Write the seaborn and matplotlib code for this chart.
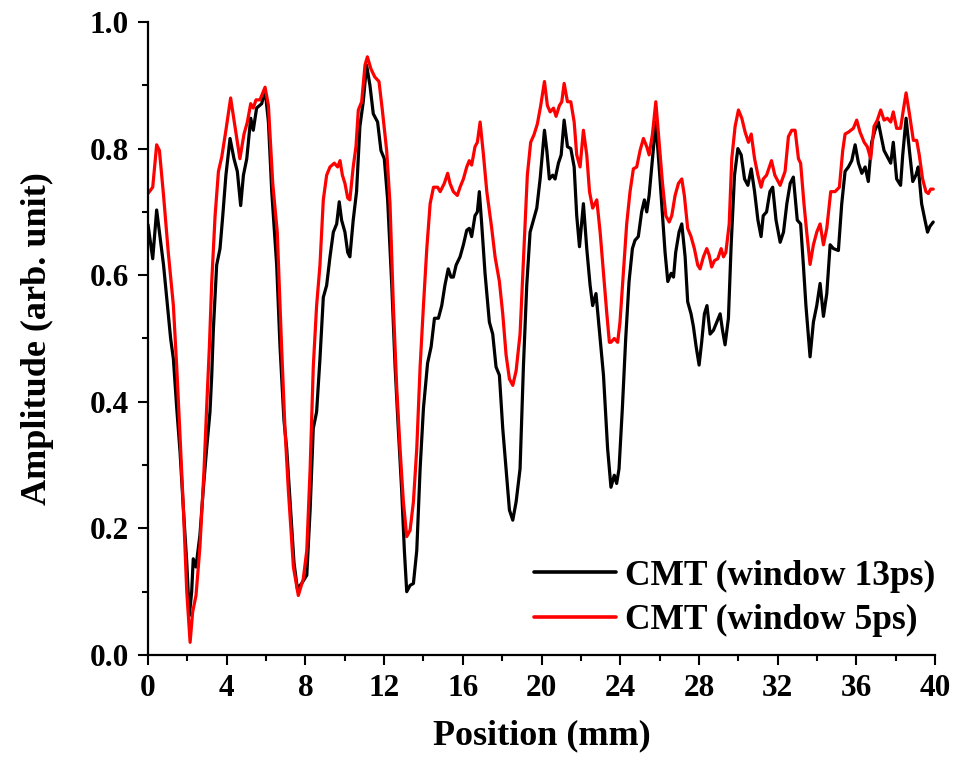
import matplotlib
matplotlib.use("Agg")
import matplotlib.pyplot as plt
from matplotlib.ticker import MultipleLocator, FormatStrFormatter
import numpy as np
import pandas as pd
import seaborn as sns

# CMT amplitude profile, 13 ps window
pos_13ps = [0.0, 0.24, 0.44, 0.79, 0.95, 1.15, 1.29, 1.46, 1.63, 1.80, 1.97, 2.10, 2.22, 2.30, 2.44,
            2.64, 2.81, 2.98, 3.15, 3.24, 3.32, 3.49, 3.66, 3.80, 3.96, 4.17, 4.37, 4.54, 4.71, 4.85,
            5.02, 5.22, 5.35, 5.52, 5.78, 5.95, 6.12, 6.29, 6.54, 6.71, 6.91, 7.05, 7.25, 7.42, 7.59,
            7.81, 8.07, 8.24, 8.40, 8.57, 8.74, 8.91, 9.08, 9.25, 9.42, 9.59, 9.72, 9.84, 10.01, 10.15,
            10.26, 10.43, 10.60, 10.77, 10.94, 11.11, 11.28, 11.45, 11.67, 11.84, 12.01, 12.18, 12.39,
            12.56, 12.72, 12.89, 13.03, 13.15, 13.32, 13.49, 13.66, 13.83, 14.0, 14.21, 14.39, 14.56,
            14.76, 14.93, 15.09, 15.26, 15.40, 15.52, 15.66, 15.86, 16.03, 16.20, 16.33, 16.45, 16.62,
            16.74, 16.84, 16.96, 17.13, 17.35, 17.52, 17.69, 17.86, 18.03, 18.20, 18.37, 18.54, 18.71,
            18.91, 19.08, 19.25, 19.42, 19.59, 19.76, 19.93, 20.15, 20.27, 20.40, 20.57, 20.69, 20.86,
            21.0, 21.15, 21.32, 21.49, 21.66, 21.79, 21.93, 22.13, 22.30, 22.47, 22.60, 22.77, 22.98,
            23.15, 23.26, 23.36, 23.53, 23.70, 23.82, 23.94, 24.11, 24.28, 24.45, 24.62, 24.75, 24.92,
            25.09, 25.23, 25.35, 25.47, 25.60, 25.81, 25.98, 26.15, 26.28, 26.42, 26.59, 26.71, 26.82,
            26.99, 27.13, 27.30, 27.43, 27.60, 27.72, 27.86, 28.01, 28.14, 28.28, 28.41, 28.57, 28.74,
            28.91, 29.08, 29.20, 29.33, 29.50, 29.64, 29.81, 29.98, 30.15, 30.32, 30.49, 30.66, 30.83,
            31.0, 31.16, 31.27, 31.44, 31.61, 31.75, 31.92, 32.13, 32.30, 32.47, 32.64, 32.80, 33.0,
            33.17, 33.31, 33.44, 33.65, 33.82, 33.99, 34.16, 34.33, 34.50, 34.67, 34.84, 35.09, 35.26,
            35.43, 35.60, 35.77, 35.94, 36.11, 36.28, 36.45, 36.61, 36.78, 36.95, 37.12, 37.24, 37.41,
            37.63, 37.75, 37.88, 38.05, 38.25, 38.36, 38.53, 38.70, 38.87, 39.03, 39.15, 39.32, 39.49,
            39.62, 39.74, 39.91]
amp_13ps = [0.68, 0.626, 0.703, 0.616, 0.565, 0.50, 0.468, 0.39, 0.32, 0.23, 0.146, 0.062, 0.10, 0.152, 0.139,
            0.19, 0.262, 0.326, 0.384, 0.442, 0.513, 0.616, 0.642, 0.694, 0.758, 0.816, 0.784, 0.764, 0.710, 0.758,
            0.784, 0.848, 0.829, 0.864, 0.871, 0.893, 0.842, 0.732, 0.616, 0.487, 0.371, 0.326, 0.23, 0.146, 0.105,
            0.113, 0.126, 0.229, 0.358, 0.384, 0.468, 0.565, 0.584, 0.629, 0.668, 0.681, 0.716, 0.687, 0.668, 0.636,
            0.629, 0.687, 0.732, 0.835, 0.874, 0.932, 0.90, 0.855, 0.842, 0.797, 0.784, 0.719, 0.584,
            0.455, 0.358, 0.262, 0.165, 0.10, 0.11, 0.113, 0.165, 0.294, 0.39, 0.461, 0.487, 0.532,
            0.532, 0.552, 0.584, 0.610, 0.597, 0.597, 0.616, 0.629, 0.648, 0.671, 0.674, 0.661, 0.694,
            0.700, 0.732, 0.681, 0.603, 0.526, 0.507, 0.455, 0.442, 0.358, 0.294, 0.229, 0.213, 0.242,
            0.294, 0.455, 0.584, 0.668, 0.687, 0.706, 0.752, 0.829, 0.797, 0.752, 0.758, 0.752, 0.777,
            0.790, 0.845, 0.803, 0.800, 0.771, 0.694, 0.645, 0.713, 0.642, 0.584, 0.552, 0.571, 0.500,
            0.442, 0.38, 0.326, 0.265, 0.284, 0.271, 0.294, 0.39, 0.5, 0.59, 0.642, 0.655, 0.661,
            0.70, 0.719, 0.70, 0.726, 0.771, 0.842, 0.771, 0.694, 0.636, 0.590, 0.603, 0.597, 0.636,
            0.668, 0.681, 0.629, 0.558, 0.539, 0.519, 0.487, 0.458, 0.494, 0.539, 0.552, 0.507, 0.513,
            0.526, 0.539, 0.513, 0.490, 0.532, 0.648, 0.758, 0.800, 0.790, 0.752, 0.742, 0.768, 0.732,
            0.687, 0.661, 0.694, 0.700, 0.732, 0.739, 0.687, 0.652, 0.668, 0.713, 0.745, 0.755, 0.687,
            0.681, 0.616, 0.552, 0.471, 0.526, 0.552, 0.587, 0.535, 0.571, 0.648, 0.642, 0.639, 0.713,
            0.764, 0.771, 0.781, 0.806, 0.777, 0.761, 0.771, 0.748, 0.81, 0.829, 0.842, 0.823, 0.797,
            0.784, 0.777, 0.81, 0.752, 0.742, 0.790, 0.848, 0.797, 0.748, 0.758, 0.771, 0.713, 0.687,
            0.668, 0.677, 0.684]

# CMT amplitude profile, 5 ps window
pos_5ps = [0.0, 0.24, 0.44, 0.58, 0.79, 1.03, 1.29, 1.46, 1.63, 1.80, 1.97, 2.14, 2.27, 2.44, 2.64,
           2.85, 2.98, 3.12, 3.24, 3.41, 3.58, 3.75, 3.96, 4.20, 4.42, 4.67, 4.88, 5.05, 5.22, 5.35,
           5.49, 5.69, 5.95, 6.12, 6.34, 6.57, 6.79, 6.96, 7.13, 7.39, 7.64, 7.89, 8.07, 8.24, 8.40,
           8.57, 8.74, 8.91, 9.08, 9.25, 9.47, 9.64, 9.76, 9.88, 10.01, 10.15, 10.26, 10.43, 10.57,
           10.69, 10.86, 11.03, 11.15, 11.33, 11.53, 11.74, 11.91, 12.13, 12.30, 12.47, 12.64, 12.81,
           12.98, 13.15, 13.32, 13.49, 13.66, 13.83, 14.0, 14.17, 14.34, 14.51, 14.72, 14.85, 15.06,
           15.23, 15.35, 15.52, 15.72, 15.86, 16.03, 16.20, 16.33, 16.45, 16.62, 16.74, 16.88, 17.05,
           17.22, 17.47, 17.64, 17.86, 18.03, 18.20, 18.37, 18.54, 18.71, 18.91, 19.11, 19.28, 19.45,
           19.62, 19.79, 19.96, 20.15, 20.30, 20.44, 20.61, 20.74, 20.91, 21.03, 21.15, 21.32, 21.49,
           21.66, 21.79, 21.96, 22.13, 22.30, 22.44, 22.60, 22.81, 22.98, 23.15, 23.32, 23.45, 23.53,
           23.70, 23.87, 23.99, 24.16, 24.33, 24.50, 24.67, 24.84, 25.01, 25.18, 25.35, 25.47, 25.64,
           25.81, 25.98, 26.15, 26.32, 26.49, 26.62, 26.79, 26.96, 27.13, 27.26, 27.43, 27.60, 27.77,
           27.94, 28.06, 28.23, 28.40, 28.52, 28.65, 28.79, 28.96, 29.13, 29.25, 29.37, 29.54, 29.67,
           29.84, 30.01, 30.18, 30.35, 30.52, 30.66, 30.83, 31.0, 31.16, 31.27, 31.44, 31.69, 31.86,
           32.13, 32.38, 32.55, 32.72, 32.89, 33.06, 33.17, 33.34, 33.48, 33.65, 33.82, 33.99, 34.16,
           34.33, 34.50, 34.70, 34.92, 35.14, 35.31, 35.43, 35.60, 35.85, 36.02, 36.19, 36.40, 36.56,
           36.73, 36.90, 37.07, 37.24, 37.41, 37.58, 37.75, 37.88, 38.05, 38.25, 38.39, 38.53, 38.70,
           38.90, 39.07, 39.20, 39.37, 39.54, 39.66, 39.78, 39.91]
amp_5ps = [0.729, 0.739, 0.806, 0.797, 0.726, 0.636, 0.552, 0.455, 0.345, 0.23, 0.10, 0.02, 0.068, 0.094, 0.171,
           0.294, 0.39, 0.487, 0.59, 0.694, 0.764, 0.787, 0.829, 0.880, 0.835, 0.784, 0.823, 0.842, 0.871, 0.864,
           0.877, 0.877, 0.897, 0.868, 0.745, 0.668, 0.487, 0.358, 0.262, 0.139, 0.094, 0.12, 0.165, 0.294, 0.455,
           0.552, 0.616, 0.719, 0.758, 0.771, 0.777, 0.771, 0.781, 0.758, 0.745, 0.722, 0.719, 0.771, 0.803,
           0.861, 0.874, 0.932, 0.945, 0.926, 0.913, 0.906, 0.861, 0.797, 0.713, 0.552, 0.423, 0.326,
           0.242, 0.187, 0.197, 0.242, 0.326, 0.455, 0.552, 0.642, 0.713, 0.739, 0.739, 0.732, 0.745,
           0.761, 0.745, 0.732, 0.726, 0.739, 0.752, 0.771, 0.781, 0.774, 0.803, 0.81, 0.842, 0.79,
           0.732, 0.674, 0.629, 0.590, 0.539, 0.474, 0.436, 0.426, 0.449, 0.507, 0.642, 0.758, 0.81,
           0.822, 0.839, 0.868, 0.906, 0.868, 0.858, 0.864, 0.851, 0.868, 0.874, 0.903, 0.874, 0.874,
           0.842, 0.79, 0.771, 0.829, 0.79, 0.732, 0.706, 0.719, 0.668, 0.603, 0.539, 0.494, 0.494,
           0.5, 0.494, 0.526, 0.603, 0.681, 0.732, 0.768, 0.771, 0.797, 0.816, 0.803, 0.79, 0.823,
           0.874, 0.81, 0.745, 0.694, 0.684, 0.694, 0.726, 0.745, 0.752, 0.726, 0.674, 0.661, 0.642,
           0.616, 0.610, 0.629, 0.642, 0.632, 0.613, 0.623, 0.626, 0.642, 0.629, 0.636, 0.681, 0.784,
           0.835, 0.861, 0.848, 0.826, 0.810, 0.823, 0.784, 0.758, 0.739, 0.752, 0.758, 0.781, 0.758,
           0.742, 0.764, 0.819, 0.829, 0.829, 0.784, 0.777, 0.713, 0.668, 0.617, 0.648, 0.668, 0.681,
           0.648, 0.674, 0.732, 0.732, 0.739, 0.797, 0.823, 0.826, 0.832, 0.845, 0.826, 0.810, 0.803,
           0.784, 0.835, 0.845, 0.861, 0.845, 0.848, 0.842, 0.858, 0.832, 0.832, 0.861, 0.888, 0.855,
           0.813, 0.813, 0.790, 0.752, 0.732, 0.729, 0.736, 0.736]

labels = ["CMT (window 13ps)", "CMT (window 5ps)"]
colors = ["#000000", "#ff0000"]

df = pd.concat([
    pd.DataFrame({"Position": pos_13ps, "Amplitude": amp_13ps, "series": labels[0]}),
    pd.DataFrame({"Position": pos_5ps, "Amplitude": amp_5ps, "series": labels[1]}),
], ignore_index=True)

sns.set_theme(style="ticks")
plt.rcParams["font.family"] = ["Liberation Serif", "DejaVu Serif"]
plt.rcParams["font.weight"] = "bold"
plt.rcParams["text.color"] = "black"
plt.rcParams["axes.labelcolor"] = "black"
plt.rcParams["xtick.color"] = "black"
plt.rcParams["ytick.color"] = "black"

fig = plt.figure(figsize=(9.56, 7.70), dpi=100)
ax = fig.add_axes([148 / 956, 1 - 655 / 770, (935 - 148) / 956, (655 - 22) / 770])

sns.lineplot(data=df, x="Position", y="Amplitude", hue="series", hue_order=labels,
             palette=colors, linewidth=2.3, ax=ax, estimator=None, sort=False)

ax.set_xlim(0, 40)
ax.set_ylim(0, 1.0)
ax.xaxis.set_major_locator(MultipleLocator(4))
ax.xaxis.set_minor_locator(MultipleLocator(2))
ax.yaxis.set_major_locator(MultipleLocator(0.2))
ax.yaxis.set_minor_locator(MultipleLocator(0.1))
ax.yaxis.set_major_formatter(FormatStrFormatter("%.1f"))

for side in ("top", "right"):
    ax.spines[side].set_visible(False)
for side in ("left", "bottom"):
    ax.spines[side].set_linewidth(1.6)
    ax.spines[side].set_color("black")

ax.tick_params(which="major", direction="out", length=7.5, width=1.5, labelsize=22.5, pad=6,
               colors="black", labelcolor="black")
ax.tick_params(which="minor", direction="out", length=4.5, width=1.5, colors="black")
for lab in ax.get_xticklabels() + ax.get_yticklabels():
    lab.set_fontweight("bold")

ax.set_xlabel("Position (mm)", fontsize=26, fontweight="bold", labelpad=12, color="black")
ax.set_ylabel("Amplitude (arb. unit)", fontsize=26, fontweight="bold", labelpad=26, color="black")

leg = ax.legend(loc="lower right", bbox_to_anchor=(1.0, 0.028), frameon=False,
                prop={"size": 25.5, "weight": "bold"}, handlelength=2.3, handletextpad=0.25,
                borderpad=0, borderaxespad=0, labelspacing=0.32)
for txt in leg.get_texts():
    txt.set_color("black")
for line in leg.get_lines():
    line.set_linewidth(2.6)

fig.savefig("out.png", dpi=100, facecolor="white")
